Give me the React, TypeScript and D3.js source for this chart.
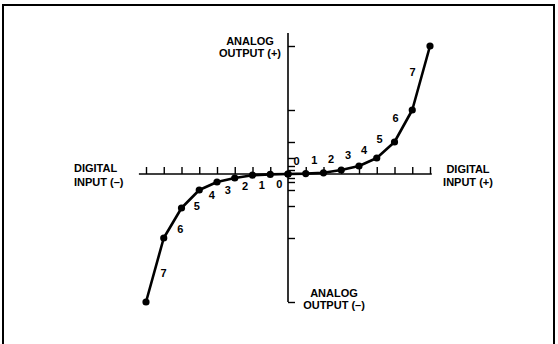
import React, { useEffect, useRef } from 'react';
import * as d3 from 'd3';

// segment end points, digital code -> analog level (log-ish companding curve)
const codes = [0, 1, 2, 3, 4, 5, 6, 7, 8];
const posLevels = [0, 0.1, 0.3, 1, 2, 4, 8, 16, 32];
const negLevels = [0, -0.1, -0.3, -1, -2, -4, -8.5, -16, -32];
const segmentLabels = ['0', '1', '2', '3', '4', '5', '6', '7'];
const yTickValues = [-32, -16, -8, -4, -2, -1, 1, 2, 4, 8, 16, 32];
const xTickValues = [-8, -7, -6, -5, -4, -3, -2, -1, 1, 2, 3, 4, 5, 6, 7, 8];

const WIDTH = 558;
const HEIGHT = 344;
const FONT = '"Liberation Sans", Arial, sans-serif';

export default function App() {
  const ref = useRef<SVGSVGElement>(null);

  useEffect(() => {
    const svg = d3.select(ref.current);
    svg.selectAll('*').remove();

    const x = d3.scaleLinear().domain([-8, 8]).range([146, 430]);
    const y = d3.scaleLinear().domain([-32, 32]).range([302, 46]);

    // frame (open at the bottom)
    svg.append('path')
      .attr('d', `M3,${HEIGHT} L3,5 L554,5 L554,${HEIGHT}`)
      .attr('fill', 'none')
      .attr('stroke', '#000')
      .attr('stroke-width', 2);

    // horizontal axis
    svg.append('line')
      .attr('x1', x(-8.4)).attr('x2', x(8.1))
      .attr('y1', y(0)).attr('y2', y(0))
      .attr('stroke', '#000').attr('stroke-width', 1.6);

    const xAxis = svg.append('g')
      .attr('transform', `translate(0,${y(0)})`)
      .call(d3.axisTop(x).tickValues(xTickValues).tickSize(7).tickFormat(() => ''));
    xAxis.select('.domain').remove();
    xAxis.selectAll('line').attr('stroke-width', 1.4);

    // vertical axis
    svg.append('line')
      .attr('x1', x(0)).attr('x2', x(0))
      .attr('y1', 33).attr('y2', y(-32))
      .attr('stroke', '#000').attr('stroke-width', 1.6);

    const yAxis = svg.append('g')
      .attr('transform', `translate(${x(0)},0)`)
      .call(d3.axisRight(y).tickValues(yTickValues).tickSize(7).tickFormat(() => ''));
    yAxis.select('.domain').remove();
    yAxis.selectAll('line').attr('stroke-width', 1.4);

    const line = d3.line<number>()
      .x((_, i) => x(codes[i]))
      .y(d => y(d));

    const sides = [
      { sign: 1, levels: posLevels, dy: -4 },
      { sign: -1, levels: negLevels, dy: 1 },
    ];

    sides.forEach(({ sign, levels, dy }) => {
      svg.append('path')
        .datum(levels)
        .attr('fill', 'none')
        .attr('stroke', '#000')
        .attr('stroke-width', 2.6)
        .attr('stroke-linejoin', 'round')
        .attr('d', d3.line<number>()
          .x((_, i) => x(sign * codes[i]))
          .y(d => y(d)));

      svg.append('g').selectAll('circle')
        .data(levels)
        .join('circle')
        .attr('cx', (_, i) => x(sign * codes[i]))
        .attr('cy', d => y(d))
        .attr('r', 3.6)
        .attr('fill', '#000');

      // segment number labels, offset perpendicular to each segment
      svg.append('g').selectAll('text')
        .data(segmentLabels)
        .join('text')
        .each(function (lab, i) {
          const x0 = x(sign * codes[i]), y0 = y(levels[i]);
          const x1 = x(sign * codes[i + 1]), y1 = y(levels[i + 1]);
          const dx = x1 - x0, ddy = y1 - y0;
          const len = Math.hypot(dx, ddy);
          // normal to the left of travel direction on + side, right on - side
          const nx = (ddy / len) * sign * sign;
          const ny = (-dx / len) * sign;
          const cx = (x0 + x1) / 2 + nx * 9 * (sign > 0 ? 1 : 1);
          const cy = (y0 + y1) / 2 + ny * 9 * sign + dy;
          d3.select(this)
            .attr('x', cx)
            .attr('y', cy)
            .text(lab);
        })
        .attr('text-anchor', 'middle')
        .attr('dominant-baseline', 'central')
        .attr('font-family', FONT)
        .attr('font-weight', 'bold')
        .attr('font-size', 11);
    });

    const axisLabels = [
      { text: 'ANALOG', x: 250, y: 41, anchor: 'middle' },
      { text: 'OUTPUT (+)', x: 250, y: 53, anchor: 'middle' },
      { text: 'ANALOG', x: 334, y: 293, anchor: 'middle' },
      { text: 'OUTPUT (–)', x: 334, y: 305, anchor: 'middle' },
      { text: 'DIGITAL', x: 468, y: 169, anchor: 'middle' },
      { text: 'INPUT (+)', x: 468, y: 182, anchor: 'middle' },
      { text: 'DIGITAL', x: 74, y: 168, anchor: 'start' },
      { text: 'INPUT (–)', x: 74, y: 182, anchor: 'start' },
    ];

    svg.append('g').selectAll('text')
      .data(axisLabels)
      .join('text')
      .attr('x', d => d.x)
      .attr('y', d => d.y)
      .attr('text-anchor', d => d.anchor)
      .attr('dominant-baseline', 'central')
      .attr('font-family', FONT)
      .attr('font-weight', 'bold')
      .attr('font-size', 11)
      .text(d => d.text);
  }, []);

  return (
    <svg
      ref={ref}
      width={WIDTH}
      height={HEIGHT}
      style={{ position: 'absolute', left: 0, top: 0, background: '#fff' }}
    />
  );
}
